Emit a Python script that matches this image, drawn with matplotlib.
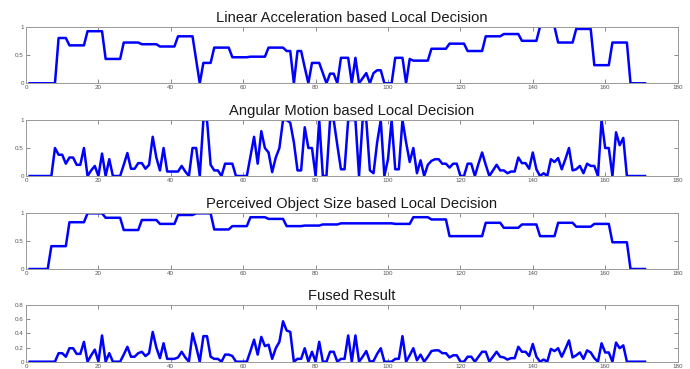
import numpy as np
import matplotlib
matplotlib.use("Agg")
import matplotlib.pyplot as plt

plt.rcParams['font.family'] = ['Liberation Sans', 'DejaVu Sans']

# sample index
frames = list(range(1, 172))

# Linear Acceleration based Local Decision
lin_acc = [
    0, 0, 0, 0, 0, 0, 0, 0, .80, .80,
    .80, .67, .67, .67, .67, .67, .92, .92, .92, .92,
    .92, .43, .43, .43, .43, .43, .72, .72, .72, .72,
    .72, .69, .69, .69, .69, .69, .65, .65, .65, .65,
    .65, .83, .83, .83, .83, .83, .42, 0, .36, .36,
    .36, .63, .63, .63, .63, .63, .46, .46, .46, .46,
    .46, .47, .47, .47, .47, .47, .63, .63, .63, .63,
    .63, .57, .57, 0, .57, .57, .28, 0, .36, .36,
    .36, .18, 0, .17, .17, 0, .45, .45, .45, 0,
    .45, 0, .09, .18, 0, .18, .23, .23, 0, 0,
    0, .45, .45, .45, 0, .43, .40, .40, .40, .40,
    .40, .61, .61, .61, .61, .61, .70, .70, .70, .70,
    .70, .57, .57, .57, .57, .57, .83, .83, .83, .83,
    .83, .87, .87, .87, .87, .87, .75, .75, .75, .75,
    .75, 1.0, 1.0, 1.0, 1.0, 1.0, .72, .72, .72, .72,
    .72, .96, .96, .96, .96, .96, .32, .32, .32, .32,
    .32, .72, .72, .72, .72, .72, 0, 0, 0, 0,
    0,
]

# Angular Motion based Local Decision
ang_motion = [
    0, 0, 0, 0, 0, 0, 0, .50, .38, .38,
    .22, .33, .33, .20, .20, .50, 0, .10, .18, 0,
    .40, 0, .30, 0, 0, 0, .20, .41, .13, .13,
    .23, .23, .13, .20, .70, .33, .10, .50, .08, .08,
    .08, .08, .18, .08, 0, .50, .50, 0, 1.0, 1.0,
    .20, .10, .10, 0, .22, .22, .22, 0, 0, 0,
    0, .35, .70, .22, .80, .50, .42, .07, .33, .50,
    1.0, 1.0, .95, .60, .10, .10, .87, .50, .50, 0,
    1.0, 0, 0, 1.0, 1.0, .55, .12, .12, 1.0, 1.0,
    1.0, 0, 1.0, 1.0, .10, .05, .60, 1.0, 0, .30,
    1.0, .12, .12, 1.0, .60, .25, .50, .05, .28, 0,
    .20, .27, .30, .30, .22, .22, .15, .22, .22, 0,
    0, .22, .22, 0, .22, .42, .20, 0, .10, .20,
    .10, .10, .05, .08, .08, .33, .23, .23, .13, .42,
    .12, 0, .05, 0, .30, .25, .32, .12, .30, .50,
    .10, .12, .18, .05, .22, .18, .18, 0, 1.0, .50,
    .50, 0, .78, .55, .68, 0, 0, 0, 0, 0,
    0,
]

# Perceived Object Size based Local Decision
obj_size = [
    0, 0, 0, 0, 0, 0, .41, .41, .41, .41,
    .41, .84, .84, .84, .84, .84, 1.0, 1.0, 1.0, 1.0,
    1.0, .92, .92, .92, .92, .92, .70, .70, .70, .70,
    .70, .88, .88, .88, .88, .88, .81, .81, .81, .81,
    .81, .97, .97, .97, .97, .97, 1.0, 1.0, 1.0, 1.0,
    1.0, .71, .71, .71, .71, .71, .77, .77, .77, .77,
    .77, .93, .93, .93, .93, .93, .90, .90, .90, .90,
    .90, .77, .77, .77, .77, .77, .78, .78, .78, .78,
    .78, .80, .80, .80, .80, .80, .82, .82, .82, .82,
    .82, .82, .82, .82, .82, .82, .82, .82, .82, .82,
    .82, .81, .81, .81, .81, .81, .93, .93, .93, .93,
    .93, .89, .89, .89, .89, .89, .59, .59, .59, .59,
    .59, .59, .59, .59, .59, .59, .83, .83, .83, .83,
    .83, .74, .74, .74, .74, .74, .80, .80, .80, .80,
    .80, .59, .59, .59, .59, .59, .83, .83, .83, .83,
    .83, .76, .76, .76, .76, .76, .81, .81, .81, .81,
    .81, .48, .48, .48, .48, .48, 0, 0, 0, 0,
    0,
]

# Fused Result
fused = [
    0, 0, 0, 0, 0, 0, 0, 0, .12, .12,
    .07, .19, .19, .11, .11, .28, 0, .09, .17, 0,
    .37, 0, .12, 0, 0, 0, .10, .21, .07, .07,
    .12, .14, .08, .12, .42, .20, .05, .26, .04, .04,
    .04, .06, .14, .06, 0, .40, .21, 0, .36, .36,
    .07, .04, .04, 0, .10, .10, .08, 0, 0, 0,
    0, .15, .31, .10, .35, .22, .24, .04, .19, .28,
    .57, .44, .42, 0, .04, .04, .19, 0, .14, 0,
    .28, 0, 0, .14, .14, 0, .04, .04, .37, 0,
    .37, 0, .07, .15, 0, .01, .11, .19, 0, 0,
    0, .04, .04, .36, 0, .09, .19, .02, .10, 0,
    .07, .15, .16, .16, .12, .12, .06, .09, .09, 0,
    0, .07, .07, 0, .07, .14, .14, 0, .07, .14,
    .07, .06, .03, .05, .05, .21, .14, .14, .08, .25,
    .07, 0, .03, 0, .18, .15, .19, .07, .18, .30,
    .06, .09, .13, .04, .16, .13, .05, 0, .26, .13,
    .13, 0, .27, .19, .23, 0, 0, 0, 0, 0,
    0,
]

titles = [
    "Linear Acceleration based Local Decision",
    "Angular Motion based Local Decision",
    "Perceived Object Size based Local Decision",
    "Fused Result",
]
series = [lin_acc, ang_motion, obj_size, fused]
y_tops = [1, 1, 1, 0.8]
y_ticks = [[0, 0.5, 1], [0, 0.5, 1], [0, 0.5, 1], [0, 0.2, 0.4, 0.6, 0.8]]
y_labels = [["0", "0.5", "1"], ["0", "0.5", "1"], ["0", "0.5", "1"],
            ["0", "0.2", "0.4", "0.6", "0.8"]]

fig = plt.figure(figsize=(6.9, 3.69), dpi=100)
fig.patch.set_facecolor("white")

# axes boxes (left, bottom, width, height) in figure fraction
boxes = [
    (0.0377, 0.7743, 0.9443, 0.1534),
    (0.0377, 0.5230, 0.9443, 0.1518),
    (0.0377, 0.2710, 0.9443, 0.1509),
    (0.0377, 0.0198, 0.9443, 0.1537),
]

for box, t, vals, ytop, yt, yl in zip(boxes, titles, series, y_tops, y_ticks, y_labels):
    ax = fig.add_axes(box)
    ax.plot(frames, vals, color="#0000ff", linewidth=1.8, clip_on=True)
    ax.set_xlim(0, 180)
    ax.set_ylim(0, ytop)
    ax.set_xticks(range(0, 181, 20))
    ax.set_yticks(yt)
    ax.set_yticklabels(yl)
    ax.tick_params(direction="in", length=3, width=0.6, labelsize=4.5,
                   colors="#777777", labelcolor="#555555",
                   top=True, right=True, pad=1.5)
    for sp in ax.spines.values():
        sp.set_color("#999999")
        sp.set_linewidth(0.7)
    ax.set_title(t, fontsize=10.6, color="#1a1a1a", pad=3.5)

fig.savefig("out.png", dpi=100, facecolor="white")
